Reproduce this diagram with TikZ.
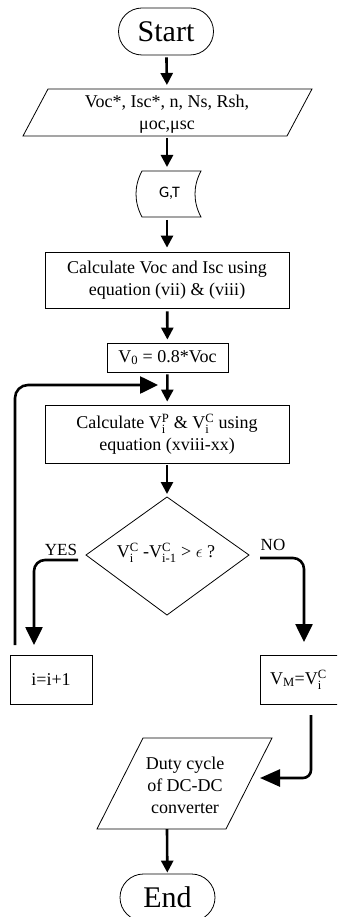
\documentclass[tikz,border=0pt]{standalone}
\usepackage{amsmath}
\usepackage{fontspec}
\setmainfont{Liberation Serif}
\newfontfamily\gtfont{Carlito}
\usetikzlibrary{arrows.meta}
\newcommand\Vsb[2]{V$_{\text{#1}}^{\text{#2}}$}
\begin{document}
\begin{tikzpicture}[x=1pt,y=-1pt,
  outline/.style={draw, line width=0.8pt},
  flow/.style={line width=2.6pt, -{Triangle[length=12pt,width=12pt]}},
  bigflow/.style={line width=2.6pt, rounded corners=11pt, -{Triangle[length=18pt,width=17pt]}},
  box/.style={outline, align=center, font=\fontsize{18}{22}\selectfont, inner sep=0pt},
  txt/.style={align=center, font=\fontsize{18}{22}\selectfont, inner sep=0pt},
  lbl/.style={font=\fontsize{17}{17}\selectfont, inner sep=0pt},
  term/.style={outline, rounded corners=23.5pt, minimum width=95pt, minimum height=47pt, font=\fontsize{30}{30}\selectfont, inner sep=0pt}
]
\clip (0,0) rectangle (337,917);
\fill[white] (0,0) rectangle (337,917);

% Start
\node[term] (start) at (166,31.5) {Start};

% input parallelogram
\draw[outline] (48,89) -- (312,89) -- (287,136) -- (23,136) -- cycle;
\node[txt] (in1) at (167,114) {Voc*, Isc*, n, Ns, Rsh,\\ μoc,μsc};
\coordinate (in1n) at (167,89);
\coordinate (in1s) at (167,136);

% G,T stored data
\draw[outline] (142,171) -- (201,171) .. controls (193,186) and (193,202) .. (201,217)
  -- (142,217) .. controls (134,202) and (134,186) .. (142,171) -- cycle;
\node[font=\gtfont\fontsize{16}{16}\selectfont, inner sep=0pt] (gt) at (169.5,193) {G,T};
\coordinate (gtn) at (167,171);
\coordinate (gts) at (167,217);

% calculate 1
\node[box, minimum width=244pt, minimum height=56pt] (calc1) at (167,280)
  {Calculate Voc and Isc using\\equation (vii) \& (viii)};

% V0
\node[box, minimum width=121pt, minimum height=29pt] (v0) at (167.5,357.5)
  {V\textsubscript{0} = 0.8*Voc};

% calculate 2
\node[box, minimum width=244pt, minimum height=58pt] (calc2) at (167,434)
  {Calculate \Vsb{i}{P} \& \Vsb{i}{C} using\\equation (xviii-xx)};

% decision
\draw[outline] (167,497) -- (249,555) -- (167,615) -- (86,555) -- cycle;
\node[txt] (dia) at (166,553) {\Vsb{i}{C} -\Vsb{i-1}{C} > $\epsilon$ ?};
\coordinate (dian) at (167,497);

% branch labels
\node[lbl] (yes) at (61,550) {YES};
\node[lbl] (no) at (273,545) {NO};

% i=i+1 and VM
\node[box, minimum width=82pt, minimum height=49pt] (inc) at (51,679.5) {i=i+1};
\node[box, minimum width=86pt, minimum height=49pt, text width=86pt, align=left] (vm) at (303,679.5)
  {\hspace*{10pt}V$_{\text{M}}$=\Vsb{i}{C}};

% duty cycle parallelogram
\draw[outline] (143,738) -- (272,738) -- (226,829) -- (97,829) -- cycle;
\node[txt] (duty) at (185,785) {Duty cycle\\of DC-DC\\converter};
\coordinate (dutys) at (167,829);

% End
\node[term] (end) at (167.5,897.5) {End};

% connectors
\draw[flow, shorten <=2pt, shorten >=4pt] (start) -- (in1n);
\draw[flow, shorten <=2pt, shorten >=4pt] (in1s) -- (gtn);
\draw[flow, shorten <=3pt, shorten >=4pt] (gts) -- (calc1);
\draw[flow, shorten <=3pt, shorten >=3pt] (calc1) -- (v0);
\draw[flow, shorten <=2pt, shorten >=3pt] (v0) -- (calc2);
\draw[flow, shorten <=2pt, shorten >=3pt] (calc2) -- (dian);
\draw[flow, shorten >=1pt] (dutys) -- (end);

\coordinate (yesS) at (78,560);
\coordinate (yesE) at (34,645);
\draw[bigflow] (yesS) -| (yesE);

\coordinate (noS) at (260,558);
\coordinate (noE) at (304,642);
\draw[bigflow] (noS) -| (noE);

\coordinate (fbS) at (15,645);
\coordinate (fbE) at (158,385);
\draw[bigflow, rounded corners=13pt] (fbS) |- (fbE);

\coordinate (vmS) at (311,715);
\coordinate (vmE) at (260,778);
\draw[bigflow, rounded corners=8pt, -{Triangle[length=20pt,width=17pt]}] (vmS) |- (vmE);
\end{tikzpicture}
\end{document}
